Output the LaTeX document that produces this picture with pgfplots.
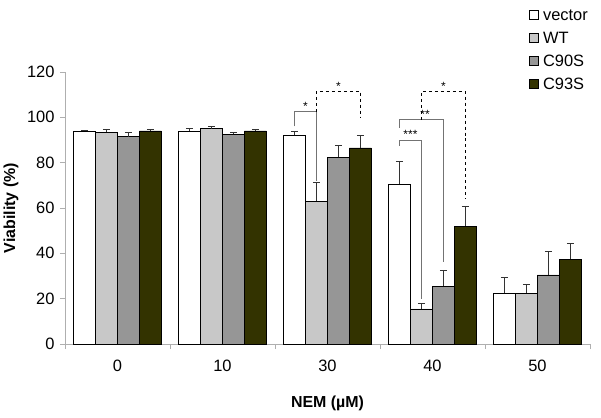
\documentclass[border=0pt]{standalone}
\usepackage{fontspec}
\setmainfont{Liberation Sans}
\usepackage{pgfplots}
\pgfplotsset{compat=1.18}
\definecolor{wt}{RGB}{200,200,200}
\definecolor{c90}{RGB}{150,150,150}
\definecolor{c93}{RGB}{51,51,0}
\definecolor{axgray}{RGB}{175,175,175}
\pgfplotsset{
  errb/.style={error bars/.cd, y dir=plus, y explicit,
    error bar style={black!80, line width=0.8bp},
    error mark options={rotate=90, mark size=3.5bp, black!80, line width=0.8bp}},
}
\begin{document}
\begin{tikzpicture}
\useasboundingbox (-65bp,-74bp) rectangle (536bp,344bp);
\begin{axis}[
  at={(0,0)}, anchor=south west,
  scale only axis, width=525bp, height=272bp,
  xmin=-0.5, xmax=4.5, ymin=0, ymax=120,
  ybar=0pt, bar width=22bp,
  axis lines*=left,
  axis line style={axgray, line width=0.6bp},
  xtick={0,1,2,3,4}, xticklabels={0,10,30,40,50},
  major x tick style={draw=none},
  minor xtick={-0.5,0.5,1.5,2.5,3.5,4.5},
  minor x tick style={axgray, line width=0.6bp},
  ytick={0,20,...,120},
  y tick style={axgray, line width=0.6bp},
  tick align=outside,
  major tick length=5bp, minor tick length=5bp,
  tick label style={font=\fontsize{16.5}{19}\selectfont},
  xticklabel style={yshift=-7bp},
  yticklabel style={xshift=-2bp},
  /pgf/number format/assume math mode=true,
  xlabel={NEM (µM)}, ylabel={Viability (\%)},
  label style={font=\fontsize{16}{19}\selectfont\bfseries},
  xlabel style={at={(axis description cs:0.5,-0.217)}, anchor=center},
  ylabel style={at={(axis description cs:-0.103,0.5)}, anchor=center, rotate=0},
  legend style={at={(1.0,1.235)}, anchor=north east, draw=none, fill=none,
    font=\fontsize{16.5}{19}\selectfont, row sep=11bp, inner sep=0pt,
    nodes={inner xsep=2bp, inner ysep=0bp, text height=12bp, text depth=0bp},
    /tikz/every odd column/.append style={column sep=3bp}},
  legend cell align=left,
  legend image code/.code={\draw[#1, line width=0.5bp] (0bp,-4.5bp) rectangle (9bp,4.5bp);},
]
\addplot[fill=white, draw=black, line width=0.6bp, errb] coordinates {
  (0,94) +- (0,0.3) (1,94) +- (0,1.2) (2,92) +- (0,1.7) (3,70.5) +- (0,10) (4,22.5) +- (0,7)};
\addlegendentry{vector}
\addplot[fill=wt, draw=black, line width=0.6bp, errb] coordinates {
  (0,93.5) +- (0,1.3) (1,95) +- (0,1) (2,63) +- (0,8.4) (3,15.5) +- (0,2.5) (4,22.5) +- (0,3.9)};
\addlegendentry{WT}
\addplot[fill=c90, draw=black, line width=0.6bp, errb] coordinates {
  (0,91.5) +- (0,1.8) (1,92.5) +- (0,0.8) (2,82.3) +- (0,5.3) (3,25.5) +- (0,6.8) (4,30.5) +- (0,10.3)};
\addlegendentry{C90S}
\addplot[fill=c93, draw=black, line width=0.6bp, errb] coordinates {
  (0,94) +- (0,0.8) (1,94) +- (0,0.5) (2,86.5) +- (0,5.5) (3,52) +- (0,8.5) (4,37.5) +- (0,6.8)};
\addlegendentry{C93S}
% significance brackets
\draw[black!55, line width=0.8bp] (axis cs:1.686,96) |- (axis cs:1.895,102.5) -- (axis cs:1.895,72);
\draw[black, dashed, line width=0.6bp] (axis cs:1.895,102.5) |- (axis cs:2.314,111.5) -- (axis cs:2.314,99.5);
\draw[black!55, line width=0.8bp] (axis cs:2.686,87.5) |- (axis cs:2.895,90) -- (axis cs:2.895,20);
\draw[black!55, line width=0.8bp] (axis cs:2.686,95.5) |- (axis cs:3.105,99) -- (axis cs:3.105,36);
\draw[black, dashed, line width=0.6bp] (axis cs:2.895,99) |- (axis cs:3.314,111.5) -- (axis cs:3.314,64);
\node[above, inner sep=1bp, font=\fontsize{12}{12}\selectfont] at (axis cs:1.79,102.5) {*};
\node[above, inner sep=1bp, font=\fontsize{12}{12}\selectfont] at (axis cs:2.105,111.5) {*};
\node[above, inner sep=1bp, font=\fontsize{12}{12}\selectfont] at (axis cs:2.79,90) {***};
\node[above, inner sep=1bp, font=\fontsize{12}{12}\selectfont] at (axis cs:2.93,99) {**};
\node[above, inner sep=1bp, font=\fontsize{12}{12}\selectfont] at (axis cs:3.105,111.5) {*};
\end{axis}
\end{tikzpicture}
\end{document}
